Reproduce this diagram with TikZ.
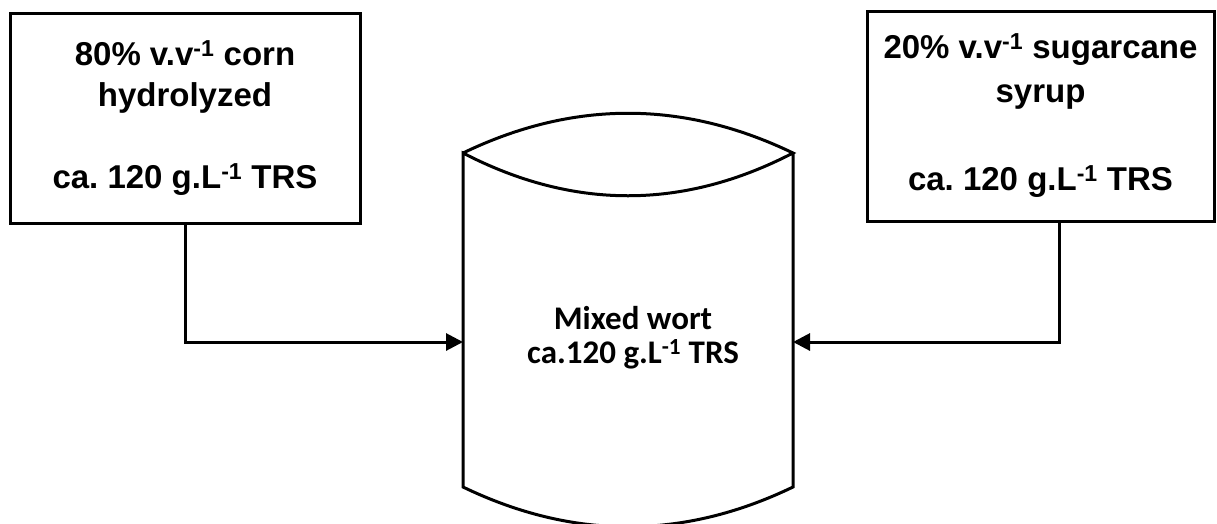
\documentclass[tikz,border=0pt]{standalone}
\usepackage{fontspec}
\setmainfont{Liberation Sans}
\newfontfamily\wortfont{Carlito}
\usetikzlibrary{arrows.meta,calc}

\begin{document}
\begin{tikzpicture}[x=1pt, y=-1pt, line width=3pt,
	feedbox/.style={draw, minimum height=210pt, align=center, inner sep=0pt,
		font=\fontsize{33}{41}\selectfont\bfseries},
	feed/.style={-{Triangle[length=17pt,width=17pt]}}]
	\useasboundingbox (0,0) rectangle (1217,523);

	\node[feedbox, minimum width=350pt] (corn) at (185,118)
		{80\% v.v\textsuperscript{-1} corn\\hydrolyzed\\[41pt]ca.\ 120 g.L\textsuperscript{-1} TRS};
	\node[feedbox, minimum width=347pt, font=\fontsize{33}{44}\selectfont\bfseries] (cane) at (1040.5,116)
		{20\% v.v\textsuperscript{-1} sugarcane\\syrup\\[44pt]ca.\ 120 g.L\textsuperscript{-1} TRS};

	\coordinate (TL) at (463,153);
	\coordinate (TR) at (793,153);
	\coordinate (BL) at (463,487);
	\coordinate (BR) at (793,487);
	\coordinate (inL) at (463,342);
	\coordinate (inR) at (793,342);

	\begin{scope}
		\clip (0,0) rectangle (1217,523);
		\draw (TL) .. controls (573,100) and (683,100) .. (TR)
			.. controls (683,210) and (573,210) .. (TL) -- (BL)
			.. controls (573,540) and (683,540) .. (BR) -- (TR);
	\end{scope}

	\node[font=\wortfont\bfseries\fontsize{33}{34}\selectfont, align=center] (mix) at (633,338)
		{Mixed wort\\ca.120 g.L\textsuperscript{-1} TRS};

	\draw[feed] (corn.south) |- (inL);
	\draw[feed] ([xshift=19pt]cane.south) |- (inR);
\end{tikzpicture}
\end{document}
